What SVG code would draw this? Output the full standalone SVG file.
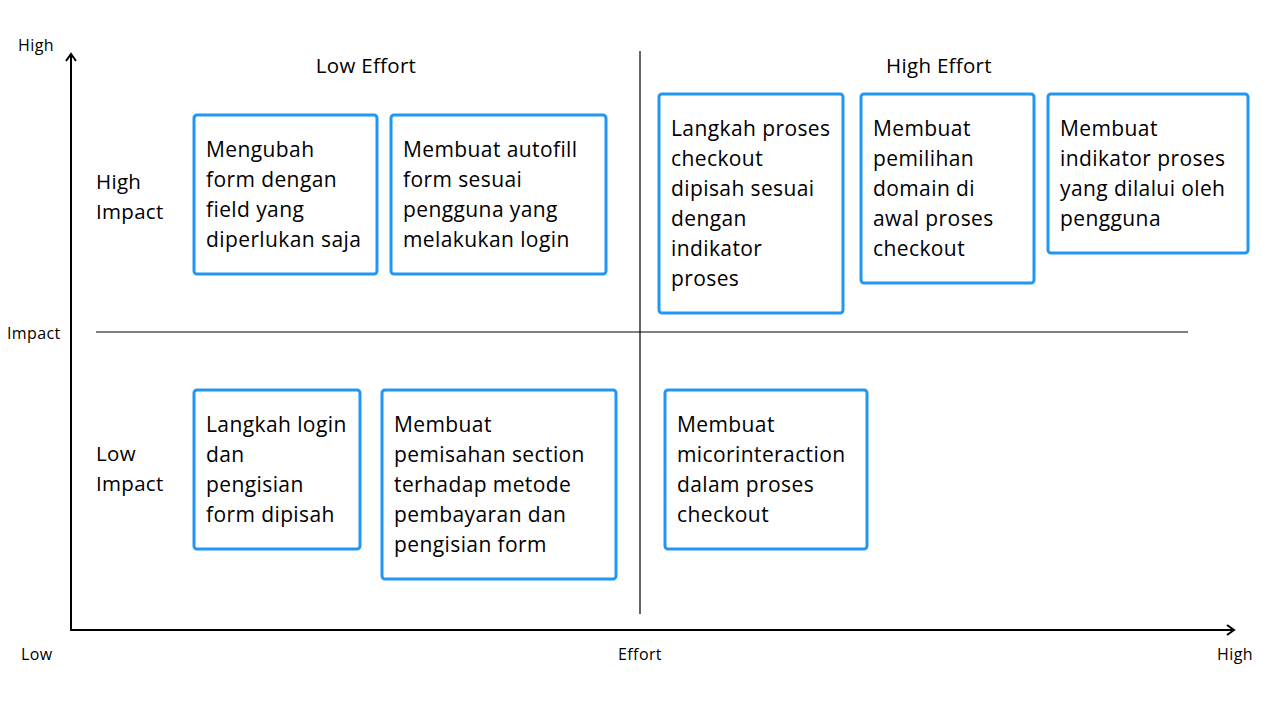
<svg xmlns="http://www.w3.org/2000/svg" width="1280" height="714" viewBox="0 0 1280 714">
<style>
text{font-family:"Open Sans","Noto Sans",sans-serif;fill:#000}
.t{font-size:21px;letter-spacing:0.4px}
.h{font-size:20.5px;letter-spacing:0.3px}
.a{font-size:16px;letter-spacing:0.4px}
.box{fill:#fff;stroke:#2196F3;stroke-width:3}
.div{stroke:#000;stroke-width:1.2;fill:none}
.ax{stroke:#000;stroke-width:2;fill:none}
</style>
<defs>
<marker id="arr" viewBox="0 0 12 12" refX="10" refY="6" markerWidth="12" markerHeight="12" markerUnits="userSpaceOnUse" orient="auto">
<path d="M3 1 L10 6 L3 11" fill="none" stroke="#000" stroke-width="2"/>
</marker>
</defs>
<rect width="1280" height="714" fill="#fff"/>
<g id="connectors">
<line class="ax" x1="71" y1="631" x2="71" y2="54" marker-end="url(#arr)"/>
<line class="ax" x1="71" y1="630" x2="1234" y2="630" marker-end="url(#arr)"/>
<line class="div" x1="640" y1="51" x2="640" y2="614"/>
<line class="div" x1="96" y1="332" x2="1188" y2="332"/>
</g>
<g id="labels">
<text class="a" x="18" y="51">High</text>
<text class="a" x="7" y="339">Impact</text>
<text class="a" x="21" y="660">Low</text>
<text class="a" x="640" y="660" text-anchor="middle">Effort</text>
<text class="a" x="1217" y="660">High</text>
<text class="h" x="366" y="73" text-anchor="middle">Low Effort</text>
<text class="h" x="939" y="73" text-anchor="middle">High Effort</text>
<text class="h" x="96" y="189">High</text>
<text class="h" x="96" y="219">Impact</text>
<text class="h" x="96" y="461">Low</text>
<text class="h" x="96" y="491">Impact</text>
</g>
<g id="n1">
<rect class="box" x="194" y="115" width="183" height="159" rx="3"/>
<text class="t" x="206" y="157">Mengubah</text>
<text class="t" x="206" y="187">form dengan</text>
<text class="t" x="206" y="217">field yang</text>
<text class="t" x="206" y="247">diperlukan saja</text>
</g>
<g id="n2">
<rect class="box" x="391" y="115" width="215" height="159" rx="3"/>
<text class="t" x="403" y="157">Membuat autofill</text>
<text class="t" x="403" y="187">form sesuai</text>
<text class="t" x="403" y="217">pengguna yang</text>
<text class="t" x="403" y="247">melakukan login</text>
</g>
<g id="n3">
<rect class="box" x="659" y="94" width="184" height="219" rx="3"/>
<text class="t" x="671" y="136">Langkah proses</text>
<text class="t" x="671" y="166">checkout</text>
<text class="t" x="671" y="196">dipisah sesuai</text>
<text class="t" x="671" y="226">dengan</text>
<text class="t" x="671" y="256">indikator</text>
<text class="t" x="671" y="286">proses</text>
</g>
<g id="n4">
<rect class="box" x="861" y="94" width="173" height="189" rx="3"/>
<text class="t" x="873" y="136">Membuat</text>
<text class="t" x="873" y="166">pemilihan</text>
<text class="t" x="873" y="196">domain di</text>
<text class="t" x="873" y="226">awal proses</text>
<text class="t" x="873" y="256">checkout</text>
</g>
<g id="n5">
<rect class="box" x="1048" y="94" width="200" height="159" rx="3"/>
<text class="t" x="1060" y="136">Membuat</text>
<text class="t" x="1060" y="166">indikator proses</text>
<text class="t" x="1060" y="196">yang dilalui oleh</text>
<text class="t" x="1060" y="226">pengguna</text>
</g>
<g id="n6">
<rect class="box" x="194" y="390" width="166" height="159" rx="3"/>
<text class="t" x="206" y="432">Langkah login</text>
<text class="t" x="206" y="462">dan</text>
<text class="t" x="206" y="492">pengisian</text>
<text class="t" x="206" y="522">form dipisah</text>
</g>
<g id="n7">
<rect class="box" x="382" y="390" width="234" height="189" rx="3"/>
<text class="t" x="394" y="432">Membuat</text>
<text class="t" x="394" y="462">pemisahan section</text>
<text class="t" x="394" y="492">terhadap metode</text>
<text class="t" x="394" y="522">pembayaran dan</text>
<text class="t" x="394" y="552">pengisian form</text>
</g>
<g id="n8">
<rect class="box" x="665" y="390" width="202" height="159" rx="3"/>
<text class="t" x="677" y="432">Membuat</text>
<text class="t" x="677" y="462">micorinteraction</text>
<text class="t" x="677" y="492">dalam proses</text>
<text class="t" x="677" y="522">checkout</text>
</g>
</svg>
